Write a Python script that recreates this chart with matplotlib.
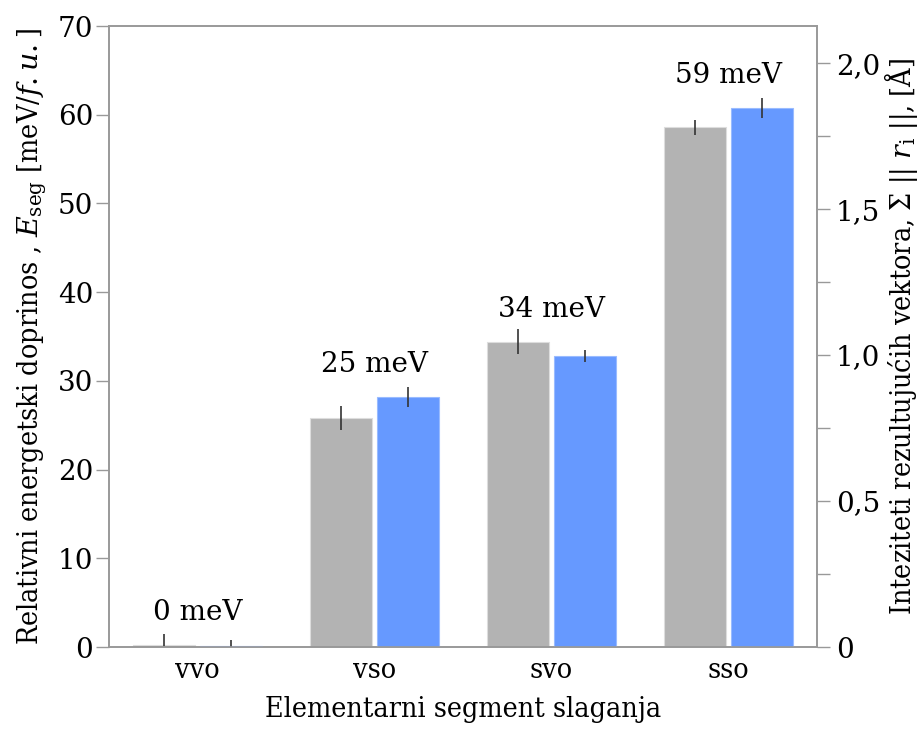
import matplotlib.pyplot as plt
import numpy as np

plt.rcParams["mathtext.fontset"] = "dejavuserif"

# Data
segments = ["vvo", "vso", "svo", "sso"]
e_seg = [0.25, 25.8, 34.4, 58.6]          # meV/f.u., left axis (grey)
e_seg_err = [1.2, 1.35, 1.4, 0.85]
r_sum = [0.004, 0.856, 0.997, 1.846]      # Angstrom, right axis (blue)
r_sum_err = [0.02, 0.034, 0.02, 0.034]
labels = ["0 meV", "25 meV", "34 meV", "59 meV"]
label_y = [3.0, 31.0, 37.2, 63.6]

grey = "#b3b3b3"
blue = "#6699ff"
spine_col = "#999999"

tick_font = {"family": "DejaVu Serif", "size": 20}
lab_font = {"family": "DejaVu Serif", "stretch": "condensed", "size": 20.5}

fig = plt.figure(figsize=(9.19, 7.31), dpi=100)
ax = fig.add_axes([0.1186, 0.1149, 0.889 - 0.1186, 0.9644 - 0.1149])
ax2 = ax.twinx()

x = np.arange(len(segments))
w = 0.35
off = 0.19

ax.bar(x - off, e_seg, w, color=grey, edgecolor="#dddddd", linewidth=0.8,
       yerr=e_seg_err, error_kw=dict(ecolor="#333333", elinewidth=1.2, capsize=0))
ax2.bar(x + off, r_sum, w, color=blue, edgecolor="#99bbff", linewidth=0.8,
        yerr=r_sum_err, error_kw=dict(ecolor="#333333", elinewidth=1.2, capsize=0))

for xi, ly, txt in zip(x, label_y, labels):
    ax.text(xi, ly, txt, ha="center", va="baseline", **tick_font)

ax.set_xlim(-0.5, 3.5)
ax.set_ylim(0, 70)
ax2.set_ylim(0, 2.127)

ax.set_xticks(x)
ax.set_xticklabels(segments, fontdict=lab_font)
ax.set_yticks(np.arange(0, 71, 10))
ax.set_yticklabels([str(v) for v in range(0, 71, 10)], fontdict=tick_font)
ax2.set_yticks([0, 0.5, 1.0, 1.5, 2.0])
ax2.set_yticklabels(["0", "0,5", "1,0", "1,5", "2,0"], fontdict=tick_font)
ax2.set_yticks(np.arange(0.25, 2.1, 0.5), minor=True)

ax.tick_params(axis="x", length=0, pad=7)
ax.tick_params(axis="y", length=9.5, width=1, color=spine_col, direction="out", pad=2)
ax2.tick_params(axis="y", which="both", length=9.5, width=1, color=spine_col,
                direction="out", pad=4)

for a in (ax, ax2):
    for s in a.spines.values():
        s.set_color(spine_col)
        s.set_linewidth(1.2)

ax.set_xlabel("Elementarni segment slaganja", fontdict=lab_font, labelpad=9)
ax.set_ylabel(r"Relativni energetski doprinos , $E_{\mathrm{seg}}$ [meV/$f.u.$]",
              fontdict=lab_font, labelpad=6)
ax2.set_ylabel(r"Inteziteti rezultujućih vektora, Σ || $r_{\mathrm{i}}$ ||, [Å]",
               fontdict=lab_font, rotation=90, labelpad=1)

fig.savefig("out.png", dpi=100)
